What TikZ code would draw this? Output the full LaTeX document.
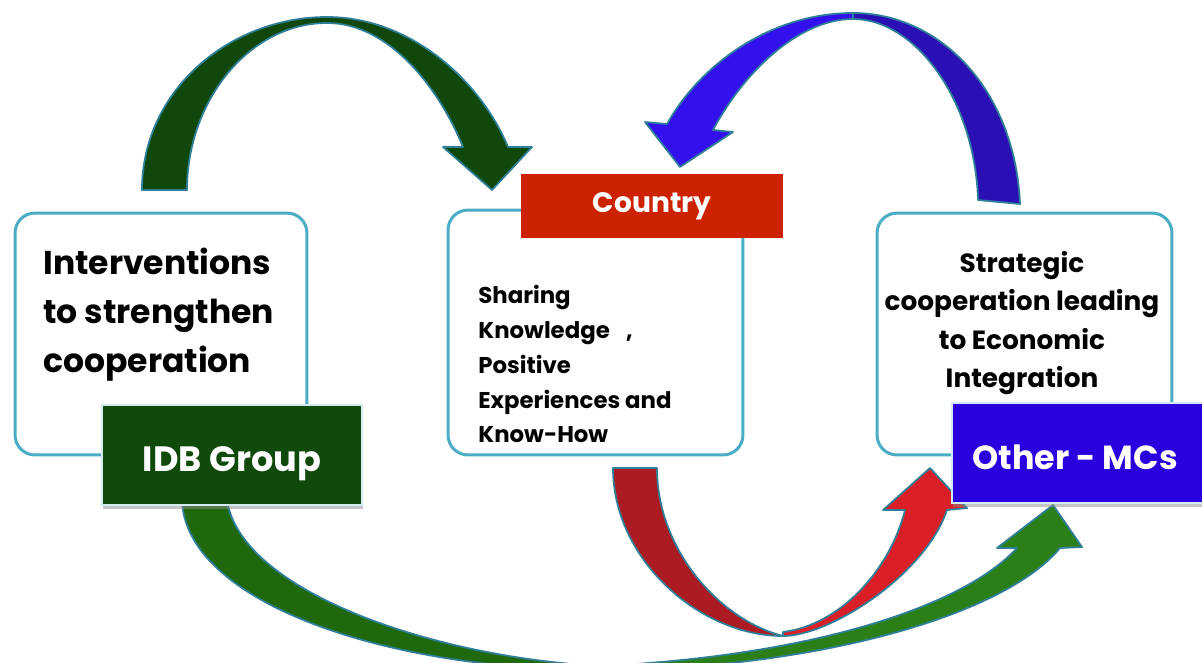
\documentclass[tikz,border=0pt]{standalone}
\usepackage{fontspec}
\setmainfont{Poppins}
\usetikzlibrary{shadows}

\definecolor{boxline}{HTML}{4BACC6}
\definecolor{idbgreen}{HTML}{0F4A0A}
\definecolor{countryred}{HTML}{CC2200}
\definecolor{mcblue}{HTML}{2A00DE}
\definecolor{arrowedge}{HTML}{2E7F97}
\definecolor{topgreen}{HTML}{10470B}
\definecolor{blueL}{HTML}{3311EE}
\definecolor{blueR}{HTML}{2A0FB5}
\definecolor{redL}{HTML}{AC1A22}
\definecolor{redR}{HTML}{DA1F28}
\definecolor{greenL}{HTML}{1F690C}
\definecolor{greenR}{HTML}{2A8016}

\begin{document}
\begin{tikzpicture}[x=0.02cm, y=-0.02cm,
  infobox/.style={draw=boxline, line width=1.7pt, rounded corners=0.4cm, fill=white, inner sep=0pt},
  tagbox/.style={fill=#1, draw=white!75!boxline, line width=0.8pt, text=white, inner sep=0pt,
    text depth=0pt, text height=19pt,
    drop shadow={shadow xshift=0.6pt, shadow yshift=-2.5pt, fill=black!45}},
  band/.style={fill=#1, draw=arrowedge, line width=1pt, line join=round}]

\useasboundingbox (0,0) rectangle (1202,662);

% -------- arrows ----------
% top left, IDB -> Country
\draw[band=topgreen] (142,190) .. controls (142,90) and (230,17) .. (327,17)
  .. controls (410,17) and (480,80) .. (508,147) -- (532,147) -- (492,190) -- (443,147) -- (463,147)
  .. controls (440,90) and (390,23) .. (327,23)
  .. controls (250,23) and (187,100) .. (187,190) -- cycle;

% top right, Other-MCs -> Country
\draw[band=blueR] (853,13) .. controls (940,13) and (1015,90) .. (1020,204) -- (978,200)
  .. controls (975,100) and (915,19) .. (853,19) -- cycle;
\draw[band=blueL] (853,13) .. controls (770,13) and (700,65) .. (667,124) -- (645,122) -- (680,167)
  -- (733,132) -- (713,130) .. controls (745,70) and (800,19) .. (853,19) -- cycle;

% bottom, Country -> Other-MCs
\draw[band=redL] (613,468) .. controls (613,560) and (700,636) .. (783,636)
  .. controls (720,620) and (657,550) .. (657,468) -- cycle;
\draw[band=redR] (783,636) .. controls (830,636) and (925,575) .. (947,510) -- (967,508) -- (930,468)
  -- (883,510) -- (905,510) .. controls (890,570) and (840,625) .. (783,632) -- cycle;

% bottom, IDB -> Other-MCs
\draw[band=greenL] (182,500) .. controls (185,600) and (380,670) .. (600,670)
  -- (600,666) .. controls (430,657) and (240,590) .. (227,500) -- cycle;
\draw[band=greenR] (600,670) .. controls (800,670) and (1000,620) .. (1060,548) -- (1082,547) -- (1053,505)
  -- (997,548) -- (1017,548) .. controls (960,610) and (800,657) .. (600,666) -- cycle;

% -------- boxes ----------
\node (interv) [infobox, minimum width=5.84cm, minimum height=4.84cm] at (161,334) {};
\node (sharing) [infobox, minimum width=5.9cm, minimum height=4.9cm] at (595.5,332.5) {};
\node (strategic) [infobox, minimum width=5.9cm, minimum height=4.84cm] at (1024.5,334) {};

\node (intervtext) [anchor=north west, align=left, inner sep=0pt,
  font=\bfseries\fontsize{18.8}{27.8}\selectfont] at (43,248)
  {Interventions\\to strengthen\\cooperation};
\node (sharingtext) [anchor=north west, align=left, inner sep=0pt,
  font=\bfseries\fontsize{13}{19.8}\selectfont] at (478,285)
  {Sharing\\Knowledge\enspace\ ,\\Positive\\Experiences and\\Know-How};
\node (strategictext) [anchor=north, align=center, inner sep=0pt,
  font=\bfseries\fontsize{15}{21.8}\selectfont] at (1022,251)
  {Strategic\\cooperation leading\\to Economic\\Integration};

% -------- labels ----------
\node (idb) [tagbox=idbgreen, minimum width=5.2cm, minimum height=2cm,
  font=\bfseries\fontsize{20}{24}\selectfont] at (232,455) {IDB Group};
\node (country) [fill=countryred, text=white, inner sep=0pt, minimum width=5.24cm, minimum height=1.28cm,
  font=\bfseries\fontsize{16}{20}\selectfont] at (652,206) {Country};
\node (othermc) [tagbox=mcblue, minimum width=5.2cm, minimum height=2cm,
  font=\bfseries\fontsize{19}{24}\selectfont] at (1082,453) {\hspace*{-8pt}Other - MCs};
\end{tikzpicture}
\end{document}
